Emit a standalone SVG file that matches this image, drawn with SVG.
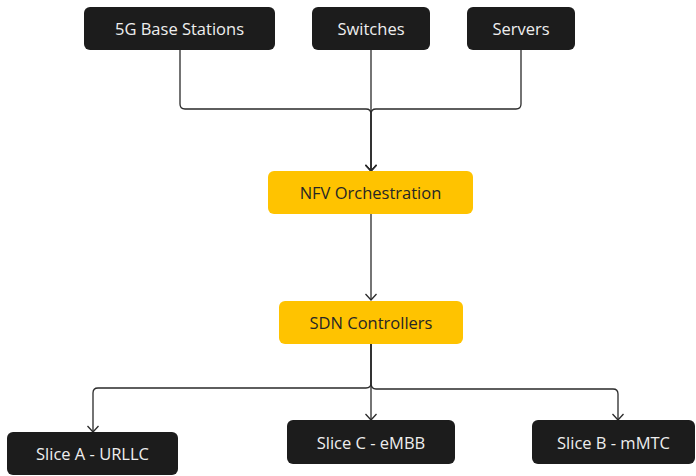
<svg xmlns="http://www.w3.org/2000/svg" width="696" height="476" viewBox="0 0 696 476">
<style>
.dark rect{fill:#1c1c1c}
.dark text{fill:#eeeeee}
.yel rect{fill:#ffc300}
.yel text{fill:#262626}
text{font-family:"Open Sans","Noto Sans",sans-serif;font-size:16.5px;text-anchor:middle;dominant-baseline:central}
.c path{fill:none;stroke:#2a2a2a;stroke-width:1.3}
</style>
<defs>
<marker id="ah" viewBox="0 0 12 12" refX="11" refY="6" markerWidth="12" markerHeight="12" markerUnits="userSpaceOnUse" orient="auto">
<polyline points="5,0.5 11,6 5,11.5" fill="none" stroke="#2a2a2a" stroke-width="1.3"/>
</marker>
</defs>
<rect width="696" height="476" fill="#ffffff"/>
<g class="c">
<path d="M180 50 V104 Q180 109 185 109 H366 Q371 109 371 114 V171" marker-end="url(#ah)"/>
<path d="M371 50 V171" marker-end="url(#ah)"/>
<path d="M521 50 V104 Q521 109 516 109 H376 Q371 109 371 114 V171" marker-end="url(#ah)"/>
<path d="M371 214 V300" marker-end="url(#ah)"/>
<path d="M371 344 V383 Q371 388 366 388 H98 Q93 388 93 393 V432" marker-end="url(#ah)"/>
<path d="M371 344 V420" marker-end="url(#ah)"/>
<path d="M371 344 V383 Q371 389 376 389 H613 Q618 389 618 394 V420" marker-end="url(#ah)"/>
</g>
<g id="bs" class="dark"><rect x="84" y="7" width="191" height="43" rx="6"/><text x="179.5" y="28.5">5G Base Stations</text></g>
<g id="sw" class="dark"><rect x="312" y="7" width="118" height="43" rx="6"/><text x="371" y="28.5">Switches</text></g>
<g id="sv" class="dark"><rect x="467" y="7" width="108" height="43" rx="6"/><text x="521" y="28.5">Servers</text></g>
<g id="nfv" class="yel"><rect x="268" y="171" width="205" height="43" rx="6"/><text x="370.5" y="192.5">NFV Orchestration</text></g>
<g id="sdn" class="yel"><rect x="279" y="301" width="184" height="43" rx="6"/><text x="371" y="322.5">SDN Controllers</text></g>
<g id="sa" class="dark"><rect x="7" y="432" width="171" height="43" rx="6"/><text x="92.5" y="453.5">Slice A - URLLC</text></g>
<g id="sc" class="dark"><rect x="287" y="420" width="168" height="44" rx="6"/><text x="371" y="442">Slice C - eMBB</text></g>
<g id="sb" class="dark"><rect x="532" y="420" width="163" height="44" rx="6"/><text x="613.5" y="442">Slice B - mMTC</text></g>
</svg>
